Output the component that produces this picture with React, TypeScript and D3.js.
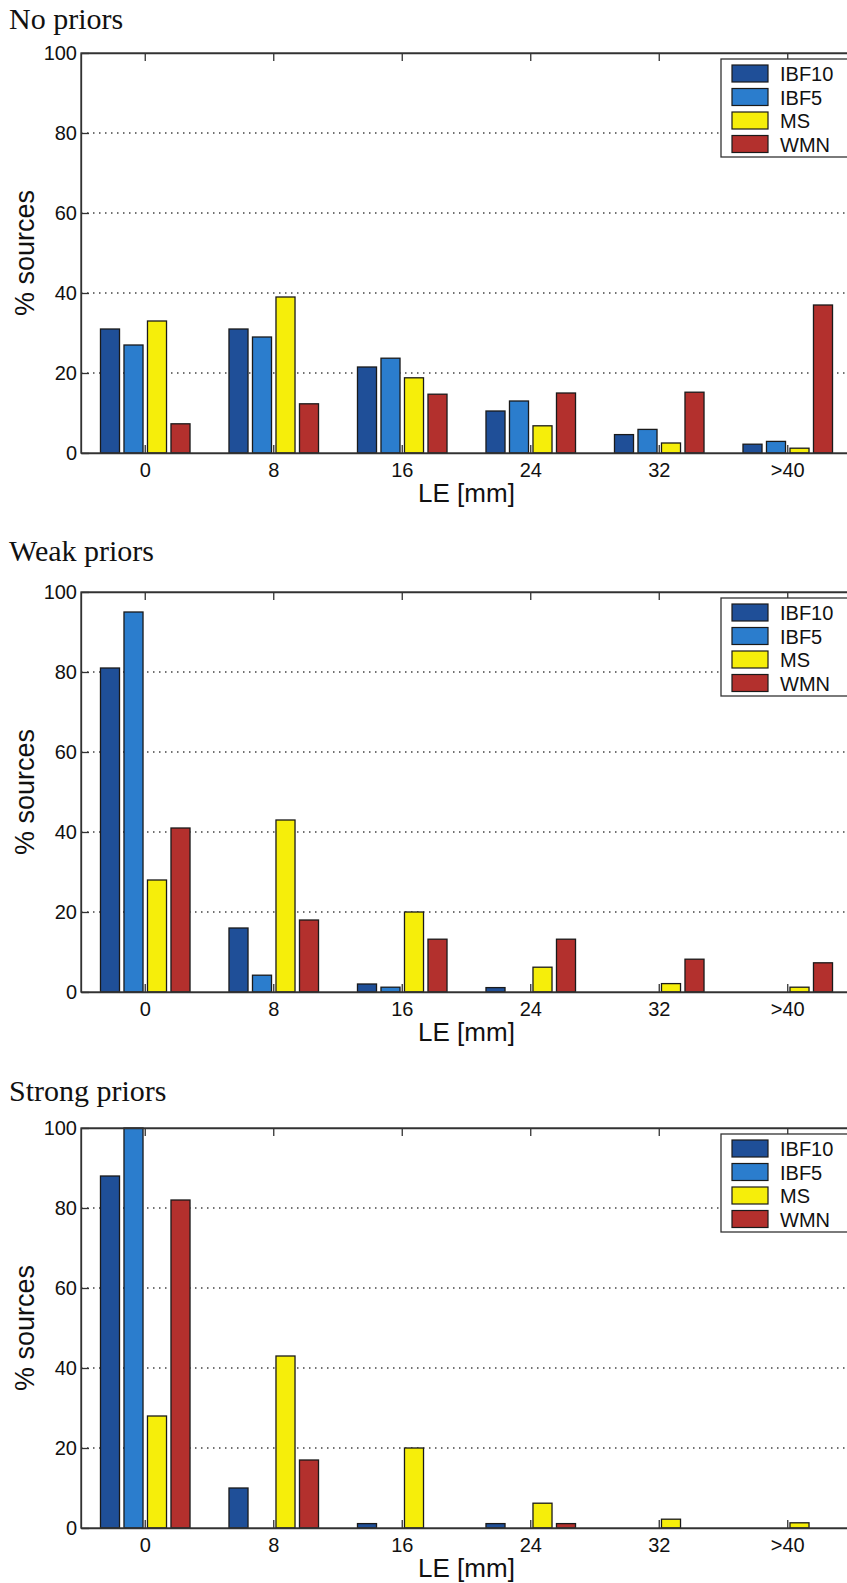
import React, { useEffect, useRef } from 'react';
import * as d3 from 'd3';

const categories = ['0', '8', '16', '24', '32', '>40'];
const series = ['IBF10', 'IBF5', 'MS', 'WMN'];
const colors = ['#1f4f98', '#2b7dcd', '#f6ee0a', '#b3302d'];
const yTicks = [0, 20, 40, 60, 80, 100];
const gridTicks = [20, 40, 60, 80];

const titles = ['No priors', 'Weak priors', 'Strong priors'];

// percentage of sources per LE bin, one row per series
const noPriors = [
    [31, 31, 21.5, 10.5, 4.6, 2.2],
    [27, 29, 23.7, 13, 5.9, 2.9],
    [33, 39, 18.8, 6.8, 2.5, 1.2],
    [7.3, 12.3, 14.7, 15, 15.2, 37]
];
const weakPriors = [
    [81, 16, 2, 1.1, 0, 0],
    [95, 4.2, 1.2, 0, 0, 0],
    [28, 43, 20, 6.2, 2.1, 1.2],
    [41, 18, 13.2, 13.2, 8.2, 7.3]
];
const strongPriors = [
    [88, 10, 1.1, 1.1, 0, 0],
    [100, 0, 0, 0, 0, 0],
    [28, 43, 20, 6.2, 2.2, 1.3],
    [82, 17, 0, 1.1, 0, 0]
];
const panels = [noPriors, weakPriors, strongPriors];

const panelTops = [53, 592, 1128];
const titleYs = [29, 561, 1101];

const App = () => {

    const d3svg = useRef(null);

    useEffect(() => {

        if (!d3svg.current) return;

        let svg = d3.select(d3svg.current);
        svg.selectAll('*').remove();

        const left = 81, right = 852, plotH = 400;
        const font = '"Liberation Sans", Arial, Helvetica, sans-serif';

        let x = d3.scaleBand().domain(categories).range([left, right]).padding(0);
        let xs = d3.scaleBand().domain(series).range([-47, 47]).paddingInner(0.19).paddingOuter(0.095);

        panels.forEach((data, p) => {
            const top = panelTops[p];
            let y = d3.scaleLinear().domain([0, 100]).range([top + plotH, top]);

            svg.append('text')
                .attr('x', 9)
                .attr('y', titleYs[p])
                .attr('font-family', '"Liberation Serif", "Times New Roman", serif')
                .attr('font-size', '30px')
                .attr('fill', '#111')
                .text(titles[p]);

            // dotted grid
            svg.append('g')
                .selectAll('line')
                .data(gridTicks)
                .enter().append('line')
                .attr('x1', left).attr('x2', right)
                .attr('y1', d => y(d)).attr('y2', d => y(d))
                .attr('stroke', '#444')
                .attr('stroke-width', 1.3)
                .attr('stroke-dasharray', '1.5,4.5');

            // bars
            let g = svg.append('g');
            series.forEach((s, si) => {
                g.selectAll('.bar' + si)
                    .data(data[si])
                    .enter().append('rect')
                    .attr('x', (d, i) => x(categories[i]) + x.bandwidth() / 2 + xs(s))
                    .attr('y', d => y(d))
                    .attr('width', xs.bandwidth())
                    .attr('height', d => y(0) - y(d))
                    .attr('fill', colors[si])
                    .attr('stroke', '#1a1a1a')
                    .attr('stroke-width', 1.3);
            });

            // axes
            let yAxis = svg.append('g')
                .attr('transform', `translate(${left},0)`)
                .call(d3.axisLeft(y).tickValues(yTicks).tickSize(-8).tickPadding(4).tickSizeOuter(0));
            yAxis.selectAll('text').style('font-size', '20px').style('font-family', font).attr('fill', '#111');

            let xAxis = svg.append('g')
                .attr('transform', `translate(0,${top + plotH})`)
                .call(d3.axisBottom(x).tickSize(-8).tickPadding(10).tickSizeOuter(0));
            xAxis.selectAll('text').style('font-size', '20px').style('font-family', font).attr('fill', '#111');

            svg.append('g')
                .attr('transform', `translate(0,${top})`)
                .call(d3.axisTop(x).tickSize(-8).tickSizeOuter(0))
                .selectAll('text').remove();

            svg.selectAll('.domain').attr('stroke', '#333').attr('stroke-width', 1.3);
            svg.selectAll('.tick line').attr('stroke', '#333').attr('stroke-width', 1.3);

            svg.append('rect')
                .attr('x', left).attr('y', top)
                .attr('width', right - left).attr('height', plotH)
                .attr('fill', 'none').attr('stroke', '#333').attr('stroke-width', 1.3);

            svg.append('text')
                .attr('x', (left + right) / 2)
                .attr('y', top + plotH + 49)
                .attr('text-anchor', 'middle')
                .attr('font-family', font)
                .attr('font-size', '26px')
                .attr('fill', '#111')
                .text('LE [mm]');

            svg.append('text')
                .attr('transform', `translate(34,${top + plotH / 2}) rotate(-90)`)
                .attr('text-anchor', 'middle')
                .attr('font-family', font)
                .attr('font-size', '27px')
                .attr('fill', '#111')
                .text('% sources');

            // legend
            let lg = svg.append('g').attr('transform', `translate(721,${top + 6})`);
            lg.append('rect')
                .attr('width', 140).attr('height', 98)
                .attr('fill', '#fff').attr('stroke', '#333').attr('stroke-width', 1.3);
            series.forEach((s, si) => {
                lg.append('rect')
                    .attr('x', 11).attr('y', 6 + si * 23.5)
                    .attr('width', 36).attr('height', 17)
                    .attr('fill', colors[si])
                    .attr('stroke', '#1a1a1a').attr('stroke-width', 1.2);
                lg.append('text')
                    .attr('x', 59).attr('y', 6 + si * 23.5 + 16)
                    .attr('font-family', font)
                    .attr('font-size', '20px')
                    .attr('fill', '#111')
                    .text(s);
            });
        });

    }, []);

    return (
        <svg width="847" height="1583" ref={d3svg} style={{ position: 'absolute', left: 0, top: 0, background: '#fff' }}></svg>
    );
};

export default App;
